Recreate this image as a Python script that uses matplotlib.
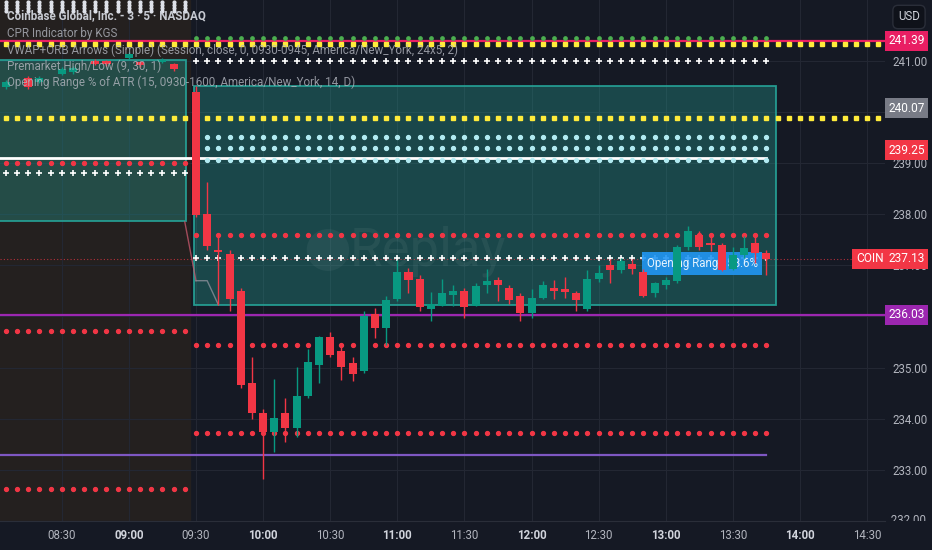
import matplotlib
matplotlib.use("Agg")
import matplotlib.pyplot as plt
from matplotlib.patches import Rectangle, Ellipse
from matplotlib.transforms import Bbox, TransformedBbox

plt.rcParams['font.family'] = ['Roboto', 'DejaVu Sans']

# ---------------- data ----------------
pre_times = ["08:05", "08:15", "08:20", "08:30", "08:35", "08:45", "08:50", "09:00", "09:05", "09:15", "09:20"]
pre_open = [240.49, 240.67, 240.59, 240.75, 240.78, 241.00, 241.00, 241.06, 240.98, 240.98, 240.94]
pre_close = [240.59, 240.49, 240.67, 240.84, 240.86, 240.94, 240.94, 241.14, 240.92, 241.02, 240.84]
pre_high = [240.63, 240.70, 240.70, 240.88, 240.90, 241.03, 241.02, 241.18, 241.00, 241.05, 240.96]
pre_low = [240.45, 240.45, 240.56, 240.72, 240.75, 240.91, 240.90, 241.03, 240.88, 240.96, 240.80]

session_start = "09:30"
bar_minutes = 5
opens = [240.39, 238.00, 237.30, 237.23, 236.50, 234.69, 234.12, 233.74, 234.12, 233.81,
         234.44, 235.05, 235.60, 235.32, 235.10, 234.94, 236.04, 235.78, 236.34, 236.87,
         236.73, 236.14, 236.21, 236.42, 236.50, 236.21, 236.61, 236.72, 236.56, 236.41,
         236.07, 236.36, 236.56, 236.53, 236.45, 236.14, 236.74, 237.00, 236.91, 237.03,
         236.87, 236.45, 236.61, 236.69, 237.36, 237.60, 237.43, 237.39, 236.92, 237.20,
         237.43, 237.25]
highs = [240.51, 238.64, 237.60, 237.30, 236.55, 235.20, 234.20, 234.78, 234.40, 235.02,
         235.37, 235.62, 235.70, 235.47, 235.20, 236.10, 236.16, 236.40, 237.10, 236.94,
         236.82, 236.47, 236.73, 236.62, 236.55, 236.65, 236.92, 236.78, 236.62, 236.45,
         236.53, 236.69, 236.72, 236.77, 236.50, 236.90, 237.00, 237.12, 237.15, 237.13,
         236.92, 236.68, 236.78, 237.40, 237.77, 237.67, 237.60, 237.44, 237.35, 237.58,
         237.58, 237.30]
lows = [237.95, 237.30, 236.23, 236.10, 234.60, 234.00, 232.82, 233.35, 233.54, 233.64,
        234.40, 234.70, 235.20, 234.76, 234.73, 234.90, 235.58, 235.45, 236.30, 236.45,
        236.10, 235.92, 236.20, 236.20, 235.98, 236.20, 236.45, 236.30, 236.25, 235.91,
        235.98, 236.34, 236.34, 236.36, 236.10, 236.10, 236.67, 236.66, 236.86, 236.84,
        236.38, 236.38, 236.53, 236.65, 237.30, 237.30, 237.28, 236.88, 236.90, 237.15,
        237.05, 236.82]
closes = [237.99, 237.38, 237.27, 236.34, 234.66, 234.12, 233.74, 234.02, 233.81, 234.44,
          235.11, 235.60, 235.25, 235.02, 234.87, 236.00, 235.78, 236.33, 236.87, 236.72,
          236.19, 236.25, 236.45, 236.50, 236.19, 236.60, 236.69, 236.61, 236.33, 236.06,
          236.37, 236.61, 236.50, 236.48, 236.32, 236.73, 236.85, 236.90, 237.08, 236.93,
          236.41, 236.65, 236.72, 237.36, 237.68, 237.36, 237.39, 236.90, 237.20, 237.34,
          237.25, 237.13]

# indicator levels
session_green_dots = [241.44]
session_white_plus = [241.00, 237.15]
session_cyan_dots = [239.52, 239.29, 239.07]
session_red_dots = [237.59, 235.44, 233.73]
pre_red_dots = [239.00, 235.71, 232.62]
pre_white_plus = [238.80]
pre_white_dots = [242.15, 242.09, 242.03, 241.98]
yellow_levels = [241.32, 239.89]
pink_line = 241.39
white_line = 239.10
purple_line = 236.03
violet_line = 233.30
last_price = 237.13
premarket_box = (241.01, 237.875)
orb_box = (240.51, 236.22)
vwap_times = ["09:25", "09:30", "09:35", "09:40"]
vwap_vals = [237.85, 236.70, 236.70, 236.23]
or_label = "Opening Range 58.6%"

price_grid = [232, 233, 234, 235, 236, 237, 238, 239, 240, 241]
price_ticks = [233, 234, 235, 237, 238, 239, 241]   # 240 and 236 are covered by value labels
price_cut = 232                                        # half-hidden at the bottom edge
time_ticks = ["08:30", "09:00", "09:30", "10:00", "10:30", "11:00", "11:30", "12:00",
              "12:30", "13:00", "13:30", "14:00", "14:30"]
axis_labels = [("241.39", 241.39, '#e91e63'), ("240.07", 240.07, '#787b86'),
               ("239.25", 239.25, '#f23645'), ("237.13", 237.13, '#f23645'),
               ("236.03", 236.03, '#9c27b0')]

legend_lines = ["Coinbase Global, Inc. - 3 \u00b7 5 \u00b7 NASDAQ",
                "CPR Indicator by KGS",
                "VWAP+ORB Arrows (Simple) (Session, close, 0, 0930-0945, America/New_York, 24x5, 2)",
                "Premarket High/Low (9, 30, 1)",
                "Opening Range % of ATR (15, 0930-1600, America/New_York, 14, D)"]


def hm(s):
    h, m = s.split(":")
    return int(h) * 60 + int(m)


# ---------------- figure ----------------
BG = '#151924'
UP = '#089981'
DN = '#f23645'
TXT = '#b2b5be'

fig = plt.figure(figsize=(9.32, 5.5), dpi=100, facecolor=BG)
ax = fig.add_axes([0, 29 / 550, 885 / 932, 521 / 550])
ax.set_facecolor(BG)
x0, x1 = 482.4, 878.0
ax.set_xlim(x0, x1)
ax.set_ylim(232.0, 242.19)

t0 = hm(session_start)
times = [t0 + bar_minutes * i for i in range(len(opens))]
pre_t = [hm(s) for s in pre_times]
pre_dot_t = list(range(485, 566, 5))
full_t = list(range(485, 880, 5))
sess_end = times[-1]

# premarket background
ax.axvspan(x0, t0 - 2.5, color='#24201f', zorder=0)

# grid
for s in time_ticks:
    ax.axvline(hm(s), color='#232733', lw=0.8, zorder=0.5)
for p in price_grid:
    ax.axhline(p, color='#232733', lw=0.8, zorder=0.5)

# boxes
for (xa, xb, (top, bot)) in [(x0 - 5, 565.5, premarket_box), (569.1, 829.3, orb_box)]:
    ax.add_patch(Rectangle((xa, bot), xb - xa, top - bot,
                           facecolor='#26a69a', alpha=0.33, edgecolor='none', zorder=1))
    ax.add_patch(Rectangle((xa, bot), xb - xa, top - bot,
                           facecolor='none', edgecolor='#26a69a', lw=1.3, alpha=0.9, zorder=1.1))

# watermark
ax.add_patch(Ellipse((629.0, 237.30), 19.0, 0.82, facecolor='white', alpha=0.05, edgecolor='none', zorder=1.2))
ax.text(638.5, 237.28, "Replay", fontsize=38, color='white', alpha=0.055, va='center', ha='left', zorder=1.2)

# lines
ax.axhline(pink_line, color='#e91e63', lw=1.6, zorder=2)
ax.plot([x0, sess_end], [white_line, white_line], color='white', lw=2, zorder=2)
ax.axhline(purple_line, color='#9c27b0', lw=1.6, zorder=2)
ax.plot([x0, sess_end], [violet_line, violet_line], color='#7e57c2', lw=1.6, zorder=2)
ax.axhline(last_price, color=DN, lw=0.8, ls=(0, (1, 2)), alpha=0.7, zorder=2)
vt = [hm(s) for s in vwap_times]
ax.plot(vt[:2], vwap_vals[:2], color='#c2566a', lw=1, alpha=0.8, zorder=2)
ax.plot(vt[1:], vwap_vals[1:], color='#8a8f9a', lw=1, alpha=0.8, zorder=2)

# dotted levels
for lv in yellow_levels:
    ax.plot(full_t, [lv] * len(full_t), ls='none', marker='s', ms=2.7, color='#ffeb3b', zorder=2.2)
for lv in session_green_dots:
    ax.plot(times, [lv] * len(times), ls='none', marker='o', ms=2.4, color='#4caf50', zorder=2.2)
for lv in session_cyan_dots:
    ax.plot(times, [lv] * len(times), ls='none', marker='o', ms=2.8, color='#b2ebf2', zorder=2.2)
for lv in session_red_dots:
    ax.plot(times, [lv] * len(times), ls='none', marker='o', ms=2.8, color=DN, zorder=2.2)
for lv in session_white_plus:
    ax.plot(times, [lv] * len(times), ls='none', marker='+', ms=4.6, mew=1.2, color='white', zorder=2.2)
for lv in pre_red_dots:
    ax.plot(pre_dot_t, [lv] * len(pre_dot_t), ls='none', marker='o', ms=2.8, color=DN, zorder=2.2)
for lv in pre_white_plus:
    ax.plot(pre_dot_t, [lv] * len(pre_dot_t), ls='none', marker='+', ms=4.6, mew=1.2, color='white', zorder=2.2)
for lv in pre_white_dots:
    ax.plot(pre_dot_t, [lv] * len(pre_dot_t), ls='none', marker='o', ms=2.0, color='#e0e3eb', zorder=2.2)

# opening range label
ax.add_patch(Rectangle((769.4, 236.81), 823.0 - 769.4, 237.26 - 236.81,
                       facecolor='#2196f3', edgecolor='none', alpha=0.9, zorder=2.5))
ax.text(796.2, 237.03, or_label, fontsize=8.3, color='#e3f2fd', ha='center', va='center', zorder=2.6)


# candles
def candles(ts, o, h, l, c, z=3):
    for t, oo, hh, ll, cc in zip(ts, o, h, l, c):
        col = UP if cc >= oo else DN
        ax.vlines(t, ll, hh, color=col, lw=1, zorder=z)
        ax.bar(t, max(abs(cc - oo), 0.02), bottom=min(oo, cc), width=3.6, color=col, zorder=z + 0.1,
               linewidth=0)


candles(pre_t, pre_open, pre_high, pre_low, pre_close)
candles(times, opens, highs, lows, closes)

# axes styling
for sp in ['top', 'left', 'right']:
    ax.spines[sp].set_visible(False)
ax.spines['bottom'].set_color('#2a2e39')
ax.yaxis.tick_right()
ax.set_yticks(price_ticks)
ax.set_yticklabels([f"{p:.2f}" for p in price_ticks])
ax.tick_params(axis='y', length=0, pad=5, labelsize=8.3, labelcolor=TXT)
ax.set_xticks([hm(s) for s in time_ticks])
ax.set_xticklabels(time_ticks)
ax.tick_params(axis='x', length=0, pad=6, labelsize=8.3, labelcolor=TXT)
for lab in ax.get_xticklabels():
    if lab.get_text().endswith(":00"):
        lab.set_fontweight('bold')
        lab.set_color('#d1d4dc')

ytr = ax.get_yaxis_transform()
cut = ax.text(1.0, price_cut, f"  {price_cut:.2f}", transform=ytr, fontsize=8.3, color=TXT,
              ha='left', va='center', clip_on=True)
cut.set_clip_box(TransformedBbox(Bbox([[885 / 932, 29 / 550], [1, 1]]), fig.transFigure))

# price scale labels
for txt, p, col in axis_labels:
    ax.text(1.0035, p, txt, transform=ytr, fontsize=8.6, color='white', ha='left', va='center',
            clip_on=False, zorder=5,
            bbox=dict(boxstyle='square,pad=0.3', facecolor=col, edgecolor='none'))
ax.text(0.9985, last_price, "COIN", transform=ytr, fontsize=8.6, color='white', ha='right', va='center',
        clip_on=False, zorder=5, bbox=dict(boxstyle='square,pad=0.3', facecolor=DN, edgecolor='none'))

fig.text(909 / 932, 1 - 17 / 550, "USD", fontsize=8.3, color='#d1d4dc', ha='center', va='center',
         bbox=dict(boxstyle='round,pad=0.45', facecolor='#0f121a', edgecolor='#2a2e39'))

# legend text
ys = [16, 33, 50, 66, 82]
for i, (line, y) in enumerate(zip(legend_lines, ys)):
    fig.text(7 / 932, 1 - y / 550, line, fontsize=8.4, ha='left', va='center',
             color='#d1d4dc' if i == 0 else '#b2b5be', alpha=0.95 if i == 0 else 0.8,
             fontweight='bold' if i == 0 else 'normal', zorder=10)

fig.savefig("out.png", dpi=100, facecolor=BG)
